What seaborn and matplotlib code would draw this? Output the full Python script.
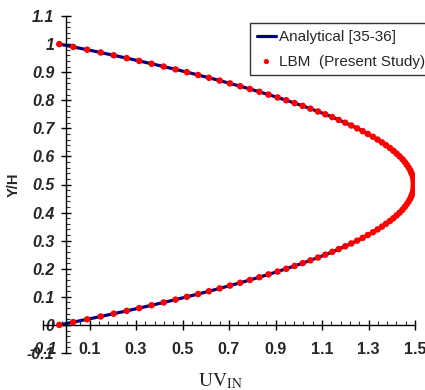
import numpy as np
import pandas as pd
import matplotlib
matplotlib.use("Agg")
import matplotlib.pyplot as plt
from matplotlib.ticker import FixedLocator
import seaborn as sns

# ---- data ----
y_over_h = [0.00, 0.01, 0.02, 0.03, 0.04, 0.05, 0.06, 0.07, 0.08, 0.09,
            0.10, 0.11, 0.12, 0.13, 0.14, 0.15, 0.16, 0.17, 0.18, 0.19,
            0.20, 0.21, 0.22, 0.23, 0.24, 0.25, 0.26, 0.27, 0.28, 0.29,
            0.30, 0.31, 0.32, 0.33, 0.34, 0.35, 0.36, 0.37, 0.38, 0.39,
            0.40, 0.41, 0.42, 0.43, 0.44, 0.45, 0.46, 0.47, 0.48, 0.49,
            0.50, 0.51, 0.52, 0.53, 0.54, 0.55, 0.56, 0.57, 0.58, 0.59,
            0.60, 0.61, 0.62, 0.63, 0.64, 0.65, 0.66, 0.67, 0.68, 0.69,
            0.70, 0.71, 0.72, 0.73, 0.74, 0.75, 0.76, 0.77, 0.78, 0.79,
            0.80, 0.81, 0.82, 0.83, 0.84, 0.85, 0.86, 0.87, 0.88, 0.89,
            0.90, 0.91, 0.92, 0.93, 0.94, 0.95, 0.96, 0.97, 0.98, 0.99,
            1.00]
lbm_u = [-0.030, 0.030, 0.090, 0.148, 0.204, 0.260, 0.314, 0.367, 0.419, 0.470,
         0.519, 0.567, 0.614, 0.660, 0.704, 0.748, 0.790, 0.831, 0.870, 0.909,
         0.946, 0.982, 1.017, 1.050, 1.083, 1.114, 1.144, 1.172, 1.200, 1.226,
         1.251, 1.275, 1.297, 1.319, 1.339, 1.358, 1.375, 1.392, 1.407, 1.421,
         1.434, 1.446, 1.456, 1.465, 1.473, 1.480, 1.485, 1.490, 1.493, 1.494,
         1.495, 1.494, 1.493, 1.490, 1.485, 1.480, 1.473, 1.465, 1.456, 1.446,
         1.434, 1.421, 1.407, 1.392, 1.375, 1.358, 1.339, 1.319, 1.297, 1.275,
         1.251, 1.226, 1.200, 1.172, 1.144, 1.114, 1.083, 1.050, 1.017, 0.982,
         0.946, 0.909, 0.870, 0.831, 0.790, 0.748, 0.704, 0.660, 0.614, 0.567,
         0.519, 0.470, 0.419, 0.367, 0.314, 0.260, 0.204, 0.148, 0.090, 0.030,
         -0.030]
analytical_y = y_over_h
analytical_u = lbm_u

x_ticks = [-0.1, 0.1, 0.3, 0.5, 0.7, 0.9, 1.1, 1.3, 1.5]
x_tick_labels = ["-0.1", "0.1", "0.3", "0.5", "0.7", "0.9", "1.1", "1.3", "1.5"]
y_ticks = [-0.1, 0.0, 0.1, 0.2, 0.3, 0.4, 0.5, 0.6, 0.7, 0.8, 0.9, 1.0, 1.1]
y_tick_labels = ["-0.1", "0", "0.1", "0.2", "0.3", "0.4", "0.5", "0.6",
                 "0.7", "0.8", "0.9", "1", "1.1"]

line_label = "Analytical [35-36]"
dot_label = "LBM  (Present Study)"

# ---- figure ----
sns.set_style("white")
plt.rcParams["font.family"] = ["Liberation Sans", "DejaVu Sans"]
plt.rcParams["mathtext.fontset"] = "stix"

fig = plt.figure(figsize=(4.25, 3.90), dpi=100)
ax = fig.add_axes([43 / 425, 1 - 353 / 390, 372 / 425, 337 / 390])
ax.set_facecolor("none")

df_a = pd.DataFrame({"u": analytical_u, "y": analytical_y})
df_l = pd.DataFrame({"u": lbm_u, "y": y_over_h})

sns.lineplot(data=df_a, x="u", y="y", sort=False, estimator=None,
             color="#000080", linewidth=2.3, ax=ax, label=line_label, zorder=2)
sns.scatterplot(data=df_l, x="u", y="y", color="#FF0000", s=22,
                edgecolor="none", linewidth=0, ax=ax, label=dot_label, zorder=3)

ax.set_xlim(-0.1, 1.5)
ax.set_ylim(-0.1, 1.1)

for side in ("top", "right"):
    ax.spines[side].set_visible(False)
ax.spines["left"].set_position(("data", 0))
ax.spines["bottom"].set_position(("data", 0))
for side in ("left", "bottom"):
    ax.spines[side].set_color("black")
    ax.spines[side].set_linewidth(1.0)

ax.xaxis.set_major_locator(FixedLocator(x_ticks))
ax.xaxis.set_minor_locator(FixedLocator(list(np.round(np.arange(-0.1, 1.5001, 0.04), 3))))
ax.yaxis.set_major_locator(FixedLocator(y_ticks))
ax.yaxis.set_minor_locator(FixedLocator(list(np.round(np.arange(-0.1, 1.1001, 0.02), 3))))

ax.set_xticklabels(x_tick_labels, fontsize=11.5, fontweight="bold")
ax.set_yticklabels(y_tick_labels, fontsize=11.5, fontweight="bold", fontstyle="italic")
ax.get_xticklabels()[0].set_fontstyle("italic")

ax.tick_params(axis="both", which="both", bottom=True, left=True,
               top=False, right=False)
ax.tick_params(axis="both", which="major", direction="inout", length=7.2,
               width=1.0, color="black")
ax.tick_params(axis="both", which="minor", direction="in", length=3.0,
               width=0.8, color="#333333")
ax.tick_params(axis="x", which="major", pad=9.0)
ax.tick_params(axis="y", which="major", pad=5.0)

ax.set_xlabel(r"$\mathrm{UV}_{\mathrm{IN}}$", fontsize=14)
ax.xaxis.set_label_coords(0.478, -0.055)
ax.set_ylabel("Y/H", fontsize=10.5, fontweight="bold")
ax.yaxis.set_label_coords(-0.06, 0.5)

leg = ax.legend(loc="upper left", bbox_to_anchor=(250 / 425, 1 - 23 / 390),
                bbox_transform=fig.transFigure, fontsize=11, frameon=True,
                fancybox=False, edgecolor="#333333", framealpha=1,
                borderpad=0.45, labelspacing=0.7, handlelength=1.25,
                handletextpad=0.2, borderaxespad=0, markerscale=0.8)
leg.get_frame().set_linewidth(1.0)

fig.savefig("out.png", dpi=100)
